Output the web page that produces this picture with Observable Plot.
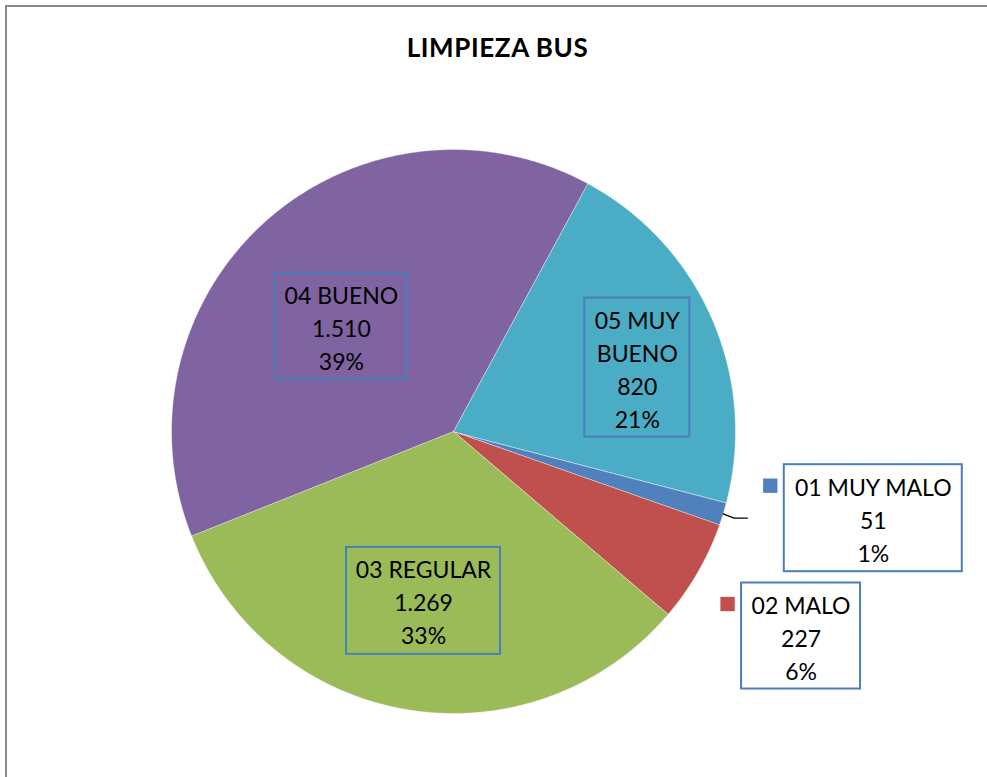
<!DOCTYPE html>
<html>
<head>
<meta charset="utf-8">
<script src="https://cdn.jsdelivr.net/npm/d3@7"></script>
<script src="https://cdn.jsdelivr.net/npm/@observablehq/plot@0.6"></script>
<style>
  html, body { margin: 0; padding: 0; background: #fff; }
  #wrap { position: relative; width: 987px; height: 777px; overflow: hidden; font-family: Lato, "Open Sans", sans-serif; }
  #frame { position: absolute; left: 5px; top: 5px; width: 1100px; height: 900px; border: 2px solid #8a8a8a; box-sizing: border-box; }
  #title { position: absolute; left: 0; width: 995px; top: 29px; text-align: center; font-weight: bold; font-size: 26px; letter-spacing: 0.6px; color: #000; margin: 0; line-height: 36px; }
  #chart { position: absolute; left: 0; top: 0; }
</style>
</head>
<body>
<div id="wrap">
  <div id="frame"></div>
  <div id="title">LIMPIEZA BUS</div>
  <div id="chart"></div>
</div>
<script>
// ---- data ----
const categories = ["01 MUY MALO", "02 MALO", "03 REGULAR", "04 BUENO", "05 MUY BUENO"];
const counts = [51, 227, 1269, 1510, 820];
const colors = ["#4f81bd", "#c0504d", "#9bbb59", "#8064a2", "#4bacc6"];

// ---- layout / style config (not data) ----
const firstSliceAngleDeg = 104.6;
const R = 282; // px per unit radius
// label placement: radius fraction, angle offset (deg), box size (px), wrap name, outside key
const labelLayout = [
  {r: 1.52, dA: -5.3, w: 178, h: 107, wrap: false, key: true},
  {r: 1.43, dA: 0.6, w: 119, h: 106, wrap: false, key: true},
  {r: 0.61, dA: 0.7, w: 154, h: 107, wrap: false, key: false},
  {r: 0.545, dA: -5.2, w: 132, h: 106, wrap: false, key: false},
  {r: 0.69, dA: 4.3, w: 105, h: 139, wrap: true, key: false}
];

const total = d3.sum(counts);
const fmtInt = d3.formatLocale({decimal: ",", thousands: ".", grouping: [3], currency: ["", "€"]}).format(",d");

const a0 = firstSliceAngleDeg * Math.PI / 180;
const arcs = d3.pie().sort(null).startAngle(a0).endAngle(a0 + 2 * Math.PI)(counts);

// slice polygons
const slicePts = [];
arcs.forEach((a, i) => {
  slicePts.push({cat: categories[i], x: 0, y: 0});
  const n = Math.max(2, Math.ceil((a.endAngle - a.startAngle) / (Math.PI / 360)));
  for (let k = 0; k <= n; k++) {
    const t = a.startAngle + (a.endAngle - a.startAngle) * k / n;
    slicePts.push({cat: categories[i], x: Math.sin(t), y: Math.cos(t)});
  }
});

// labels
const labels = arcs.map((a, i) => {
  const L = labelLayout[i];
  const mid = (a.startAngle + a.endAngle) / 2 + L.dA * Math.PI / 180;
  const cx = Math.sin(mid) * L.r, cy = Math.cos(mid) * L.r;
  const name = L.wrap ? categories[i].replace(/ (\S+)$/, "\n$1") : categories[i];
  return {
    cat: categories[i], color: colors[i], key: L.key,
    cx, cy,
    x1: cx - L.w / 2 / R, x2: cx + L.w / 2 / R,
    y1: cy - L.h / 2 / R, y2: cy + L.h / 2 / R,
    text: name + "\n" + fmtInt(counts[i]) + "\n" + Math.round(counts[i] / total * 100) + "%",
    firstLineY: cy + L.h / 2 / R - 21 / R
  };
});
const keyed = labels.filter(d => d.key);

// leader line for the smallest slice
const leaderPts = [];
{
  const a = arcs[0];
  const mid = (a.startAngle + a.endAngle) / 2;
  leaderPts.push({x: Math.sin(mid) * 1.0, y: Math.cos(mid) * 1.0});
  leaderPts.push({x: Math.sin(mid) * 1.04, y: Math.cos(mid) * 1.04 - 0.004});
  leaderPts.push({x: labels[0].x1 - 37 / R, y: Math.cos(mid) * 1.04 - 0.004});
}

const chart = Plot.plot({
  width: 987,
  height: 777,
  marginLeft: 171,
  marginRight: 252,
  marginTop: 149,
  marginBottom: 64,
  x: {domain: [-1, 1], axis: null},
  y: {domain: [-1, 1], axis: null},
  color: {domain: categories, range: colors},
  style: {fontFamily: "Lato, 'Open Sans', sans-serif", background: "transparent", overflow: "visible"},
  marks: [
    Plot.line(slicePts, {x: "x", y: "y", z: "cat", fill: "cat", stroke: "white", strokeWidth: 0.6, strokeOpacity: 0.7, curve: "linear-closed"}),
    Plot.line(leaderPts, {x: "x", y: "y", stroke: "black", strokeWidth: 1.3}),
    Plot.rect(labels, {x1: "x1", x2: "x2", y1: "y1", y2: "y2", fill: d => d.key ? "white" : "none", stroke: "#4a7ebb", strokeWidth: 2}),
    Plot.dot(keyed, {x: d => d.x1 - 14 / R, y: "firstLineY", symbol: "square", r: 8.1, fill: "color", stroke: "none"}),
    Plot.text(labels, {x: "cx", y: "cy", text: "text", fill: "black", fontSize: 23, lineHeight: 1.435, textAnchor: "middle"})
  ]
});
document.getElementById("chart").appendChild(chart);
</script>
</body>
</html>
